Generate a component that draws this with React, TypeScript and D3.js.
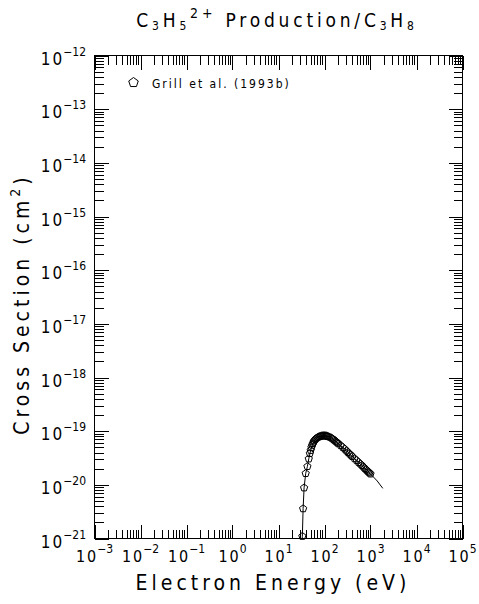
import React from "react";
import * as d3 from "d3";

// ---- data ----
const pointEnergies = [33, 34.3, 36, 39, 42.5, 45.5, 48, 50, 52, 54, 56, 58, 60, 63, 66, 70, 74, 78, 82, 86, 90, 95, 100, 105, 110, 115, 120, 130, 140, 150, 160, 170, 180, 190, 200, 225, 250, 275, 300, 325, 350, 375, 400, 450, 500, 550, 600, 650, 700, 750, 800, 850, 900, 950, 1000];
const pointValues = [0.11, 0.36, 0.88, 1.63, 2.2, 3.05, 3.85, 4.4, 5.0, 5.5, 5.9, 6.3, 6.65, 7.0, 7.3, 7.6, 7.8, 7.95, 8.05, 8.15, 8.2, 8.25, 8.25, 8.2, 8.15, 8.05, 7.95, 7.75, 7.5, 7.2, 6.9, 6.6, 6.35, 6.1, 5.85, 5.4, 5.0, 4.65, 4.3, 4.02, 3.78, 3.58, 3.38, 3.08, 2.84, 2.62, 2.45, 2.3, 2.15, 2.02, 1.92, 1.82, 1.74, 1.67, 1.6]; // x 1e-20 cm^2
const fitEnergies = [32.8, 33, 34.3, 36, 39, 42.5, 45.5, 50, 55, 60, 70, 80, 90, 100, 120, 150, 200, 300, 400, 500, 700, 1000, 1400, 1850];
const fitValues = [0.1, 0.11, 0.36, 0.88, 1.63, 2.2, 3.05, 4.4, 5.7, 6.65, 7.6, 8.0, 8.2, 8.25, 7.95, 7.2, 5.85, 4.3, 3.38, 2.84, 2.15, 1.6, 1.18, 0.86]; // x 1e-20
const xDecades = [-3, -2, -1, 0, 1, 2, 3, 4, 5];
const yDecades = [-21, -20, -19, -18, -17, -16, -15, -14, -13, -12];
const titleText = "Production/C";
const xLabel = "Electron Energy (eV)";
const yLabel = "Cross Section (cm";
const legendText = "Grill et al. (1993b)";

const L = 94.5, R = 462.5, T = 55.5, B = 538.5;
const FONT = "'Liberation Sans Narrow', 'DejaVu Sans Condensed', 'Liberation Sans', sans-serif";

function pentagon(cx: number, cy: number, r: number) {
  const pts: [number, number][] = [];
  for (let i = 0; i < 5; i++) {
    const a = -Math.PI / 2 + (i * 2 * Math.PI) / 5;
    pts.push([cx + r * Math.cos(a), cy + r * Math.sin(a)]);
  }
  return "M" + pts.map((p) => p.join(",")).join("L") + "Z";
}

export default function App() {
  const x = d3.scaleLog().domain([1e-3, 1e5]).range([L, R]);
  const y = d3.scaleLog().domain([1e-21, 1e-12]).range([B, T]);

  const xTicks: { v: number; major: boolean }[] = [];
  for (let d = -3; d < 5; d++) for (let k = 1; k < 10; k++) xTicks.push({ v: k * Math.pow(10, d), major: k === 1 });
  xTicks.push({ v: 1e5, major: true });
  const yTicks: { v: number; major: boolean }[] = [];
  for (let d = -21; d < -12; d++) for (let k = 1; k < 10; k++) yTicks.push({ v: k * Math.pow(10, d), major: k === 1 });
  yTicks.push({ v: 1e-12, major: true });

  const MAJ = 14, MIN = 9;
  const line = d3.line<number>()
    .x((_, i) => x(fitEnergies[i]))
    .y((v) => y(v * 1e-20));

  return (
    <svg width={479} height={604} style={{ position: "absolute", left: 0, top: 0, background: "#fff" }}>
      <rect x={0} y={0} width={479} height={604} fill="#fff" />
      {/* title */}
      <text x={277} y={27} textAnchor="middle" fontFamily={FONT} fontSize={19} letterSpacing={3.8} fill="#000">
        C<tspan fontSize={12} dy={3}>3</tspan><tspan dy={-3}>H</tspan><tspan fontSize={12} dy={3}>5</tspan>
        <tspan fontSize={14} dy={-12}>2+</tspan><tspan dy={9}> {titleText}</tspan>
        <tspan fontSize={12} dy={3}>3</tspan><tspan dy={-3}>H</tspan><tspan fontSize={12} dy={3}>8</tspan>
      </text>
      {/* frame */}
      <g stroke="#000" strokeWidth={1} shapeRendering="crispEdges" fill="none">
        <rect x={L} y={T} width={R - L} height={B - T} />
        {xTicks.map((t, i) => {
          const px = Math.round(x(t.v)) + 0.5;
          const len = t.major ? MAJ : MIN;
          return (
            <g key={"x" + i}>
              <line x1={px} x2={px} y1={B} y2={B - len} />
              <line x1={px} x2={px} y1={T} y2={T + len} />
            </g>
          );
        })}
        {yTicks.map((t, i) => {
          const py = Math.round(y(t.v)) + 0.5;
          const len = t.major ? MAJ : MIN;
          return (
            <g key={"y" + i}>
              <line x1={L} x2={L + len} y1={py} y2={py} />
              <line x1={R} x2={R - len} y1={py} y2={py} />
            </g>
          );
        })}
      </g>
      {/* x tick labels */}
      {xDecades.map((d) => (
        <text key={"xl" + d} x={x(Math.pow(10, d))} y={562} textAnchor="middle" fontFamily={FONT} fontSize={16} fill="#000">
          <tspan letterSpacing={2}>1</tspan><tspan letterSpacing={1}>0</tspan>
          <tspan fontSize={12} dy={-9} letterSpacing={0}>{d < 0 ? "\u2212" + Math.abs(d) : String(d)}</tspan>
        </text>
      ))}
      {/* y tick labels */}
      {yDecades.map((d) => (
        <text key={"yl" + d} x={86} y={y(Math.pow(10, d)) + 9} textAnchor="end" fontFamily={FONT} fontSize={17} fill="#000">
          <tspan letterSpacing={2}>1</tspan><tspan letterSpacing={1}>0</tspan>
          <tspan fontSize={12} dy={-9} letterSpacing={0}>{"\u2212" + Math.abs(d)}</tspan>
        </text>
      ))}
      {/* axis labels */}
      <text x={273} y={590} textAnchor="middle" fontFamily={FONT} fontSize={21} letterSpacing={4} fill="#000">{xLabel}</text>
      <text transform="translate(29,304) rotate(-90)" textAnchor="middle" fontFamily={FONT} fontSize={21} letterSpacing={4} fill="#000">
        {yLabel}<tspan fontSize={14} dy={-9}>2</tspan><tspan dy={9}>)</tspan>
      </text>
      {/* legend */}
      <path d={pentagon(133.5, 82.5, 5)} fill="none" stroke="#000" strokeWidth={1} />
      <text x={152} y={88} fontFamily={FONT} fontSize={12} letterSpacing={2} fill="#000">{legendText}</text>
      {/* fit line */}
      <path d={line(fitValues) || ""} fill="none" stroke="#000" strokeWidth={1} />
      {/* data points */}
      <g fill="none" stroke="#000" strokeWidth={1}>
        {pointEnergies.map((e, i) => (
          <path key={"p" + i} d={pentagon(x(e), y(pointValues[i] * 1e-20), 3.8)} />
        ))}
      </g>
    </svg>
  );
}
